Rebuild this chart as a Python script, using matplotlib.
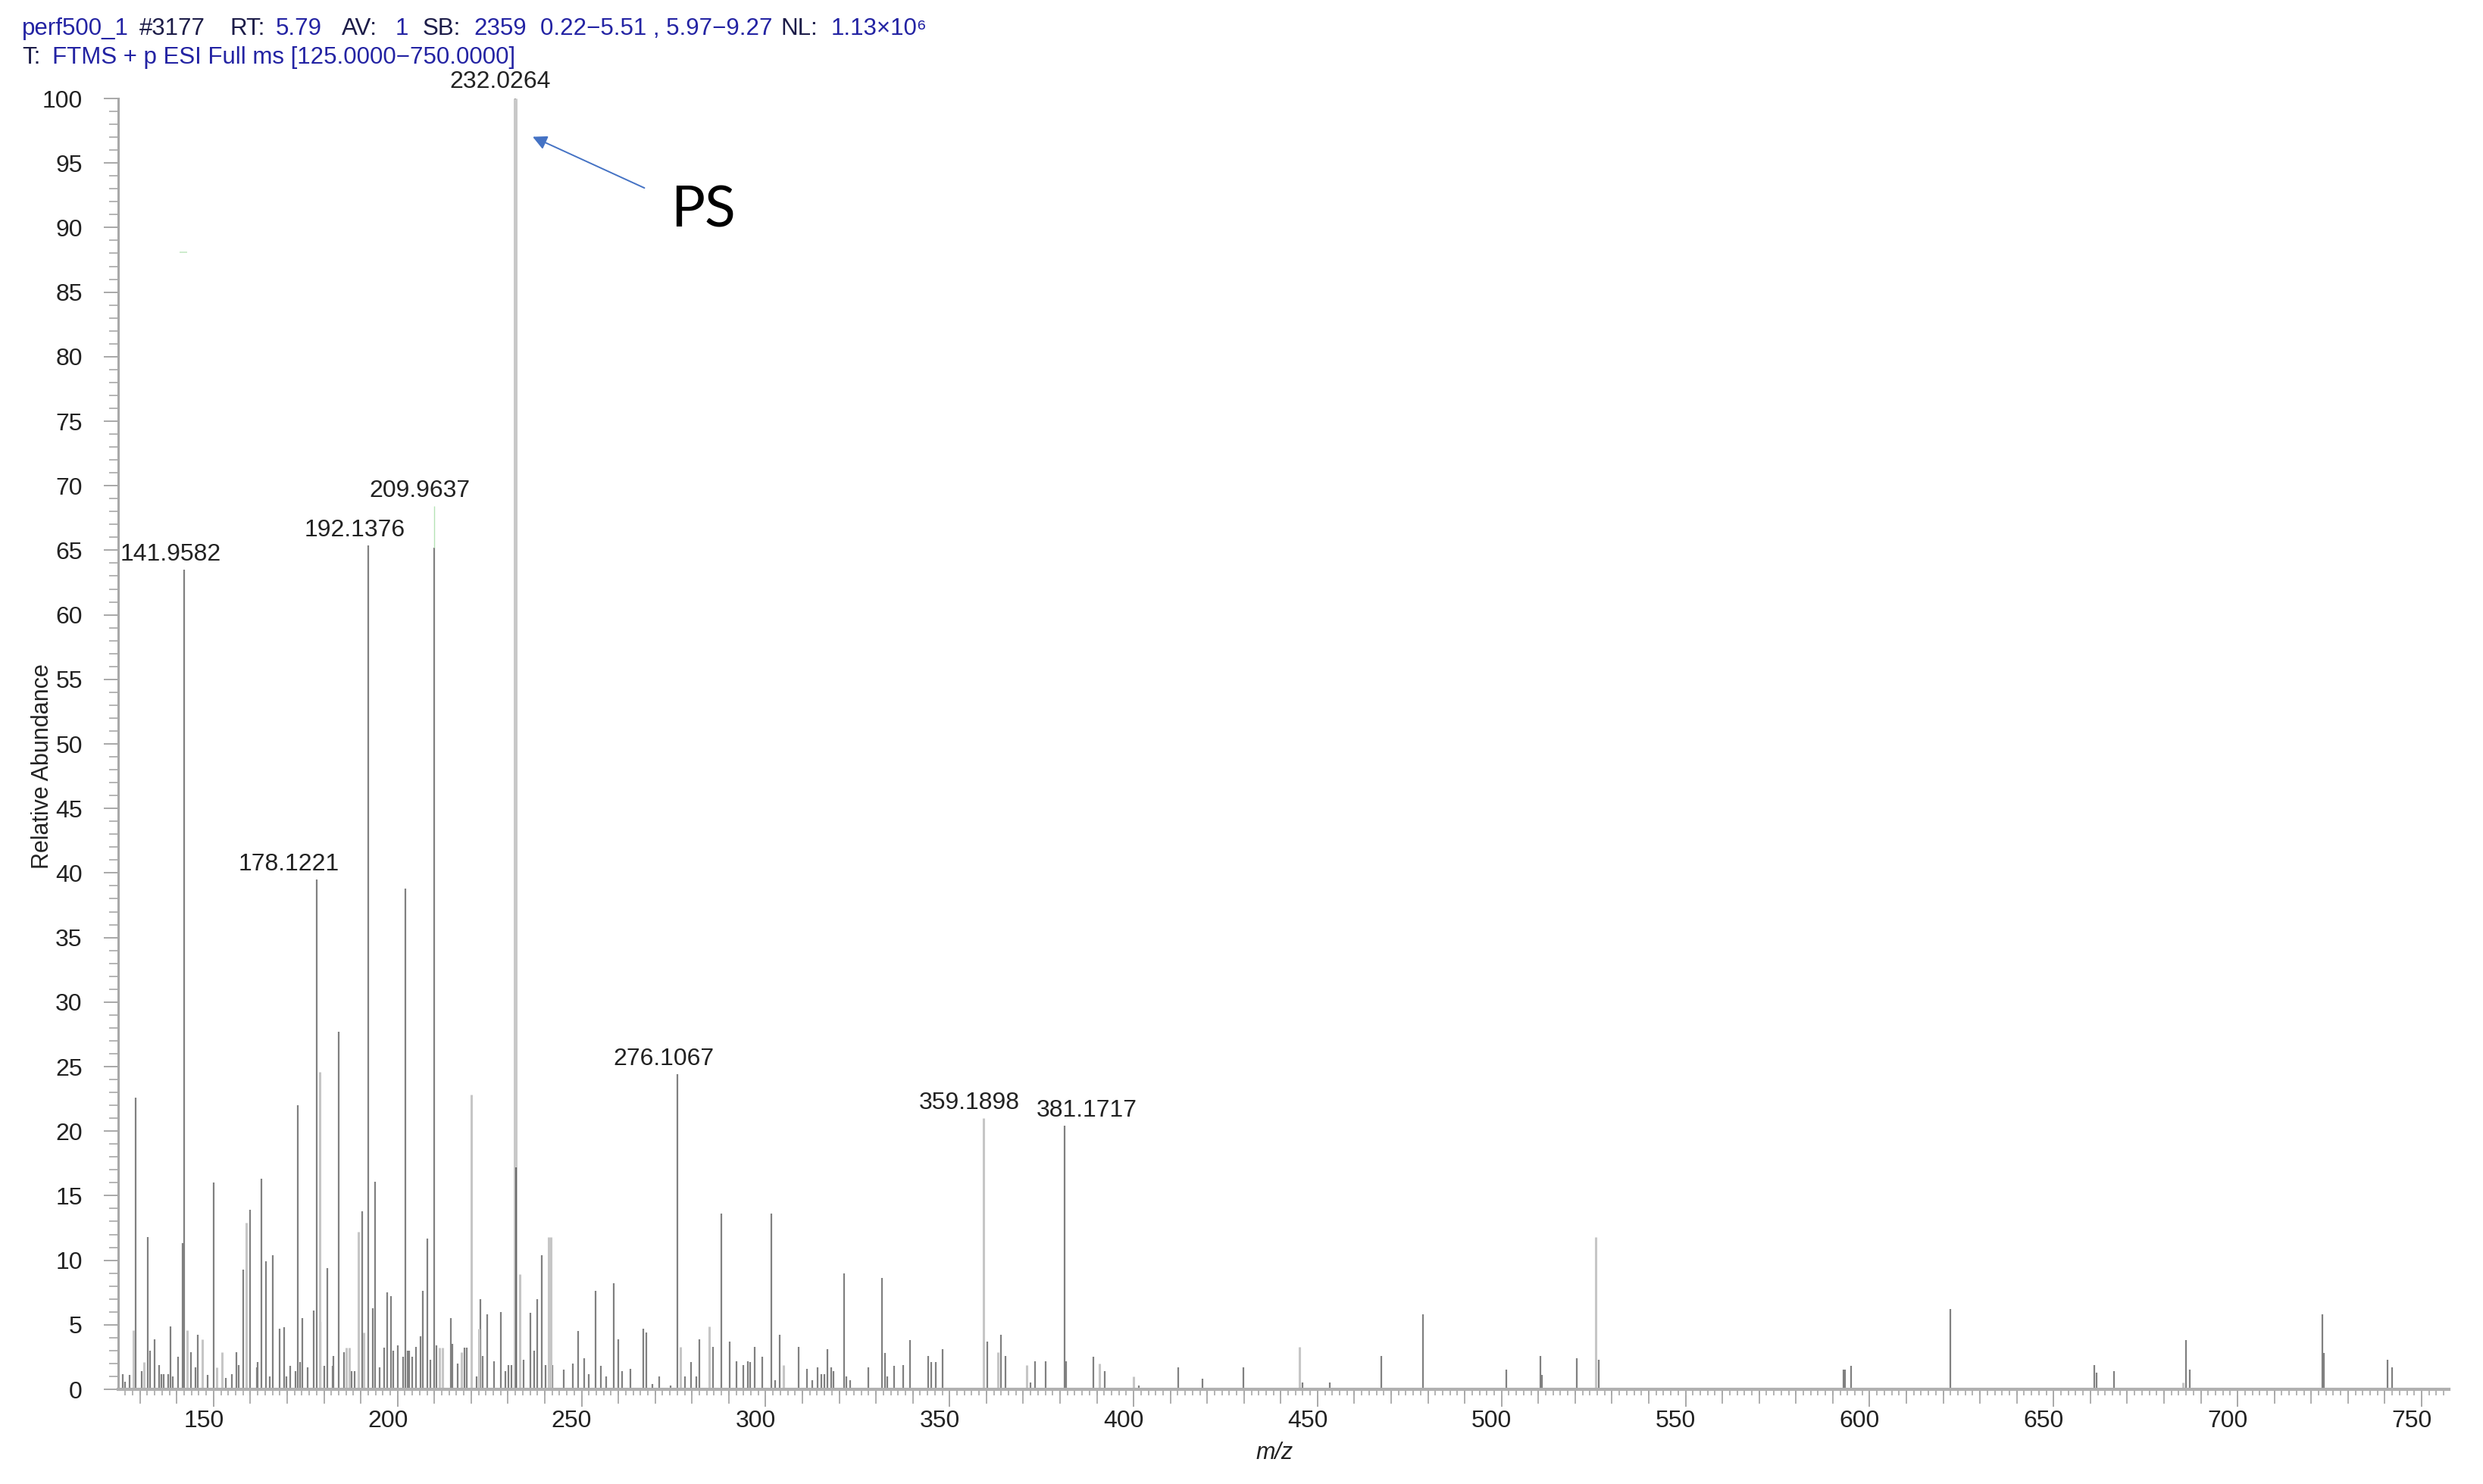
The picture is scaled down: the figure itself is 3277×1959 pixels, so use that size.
import numpy as np
import matplotlib.pyplot as plt
from matplotlib.ticker import MultipleLocator
from matplotlib.transforms import ScaledTranslation

plt.rcParams['font.family'] = ['Liberation Sans', 'DejaVu Sans']

# peak list: m/z and relative abundance (%)
mz = [125.3, 126.0, 127.2, 128.3, 128.9, 130.4, 131.2, 132.1, 132.7, 134.0,
      135.3, 135.8, 136.4, 137.6, 138.3, 139.0, 140.3, 141.5, 141.9582, 142.8,
      143.9, 145.0, 145.7, 146.9, 148.3, 150.1, 150.9, 152.4, 153.4, 155.0,
      156.2, 156.8, 158.1, 158.8, 159.9, 161.7, 162.0, 163.0, 164.2, 165.3,
      166.1, 167.9, 169.2, 169.8, 170.9, 172.3, 172.9, 173.6, 174.2, 175.5,
      177.2, 178.1221, 178.8, 179.1, 180.0, 181.0, 182.3, 182.6, 184.0, 185.5,
      186.0, 186.9, 187.6, 188.3, 189.3, 190.3, 190.9, 192.1376, 193.3, 193.9,
      195.2, 196.4, 197.1, 198.3, 198.9, 200.1, 201.5, 202.05, 202.7, 203.2,
      204.0, 205.1, 206.2, 206.9, 208.2, 209.0, 209.9637, 210.5, 211.4, 212.2,
      214.4, 214.9, 216.3, 217.3, 218.2, 218.9, 220.0, 221.4, 222.2, 222.6,
      223.2, 224.3, 226.2, 228.1, 229.3, 230.2, 231.0, 232.0264, 232.25, 233.3,
      234.3, 236.1, 237.2, 237.9, 239.1, 240.2, 241.0, 241.6, 242.1, 245.2,
      247.7, 249.1, 250.8, 251.9, 253.9, 255.2, 256.7, 258.8, 260.0, 261.1,
      263.2, 266.8, 267.6, 269.3, 271.1, 274.2, 276.1067, 276.9, 278.0, 279.8,
      281.1, 282.0, 284.7, 285.8, 287.9, 290.3, 292.2, 294.0, 295.2, 295.9,
      297.1, 299.0, 301.5, 302.6, 303.8, 304.8, 308.9, 311.2, 312.7, 314.1,
      315.1, 316.0, 316.9, 317.8, 318.5, 321.3, 322.0, 322.9, 328.0, 331.7,
      332.4, 333.1, 335.0, 337.4, 339.3, 344.2, 345.0, 346.2, 348.0, 359.1898,
      360.3, 363.1, 364.0, 365.2, 371.0, 371.9, 373.2, 376.2, 381.1717, 381.7,
      389.1, 390.8, 392.2, 400.0, 401.5, 412.1, 418.7, 429.9, 445.0, 445.8,
      453.3, 467.4, 478.6, 501.3, 510.5, 510.9, 520.4, 525.6, 526.5, 592.8,
      593.4, 595.0, 621.9, 661.0, 661.6, 666.5, 685.1, 685.9, 686.9, 723.0,
      723.4, 740.7, 742.0]
abundance = [1.2, 0.6, 1.1, 4.6, 22.6, 1.4, 2.1, 11.8, 3.0, 3.9,
             1.9, 1.2, 1.2, 1.2, 4.9, 1.0, 2.5, 11.3, 63.5, 4.6,
             2.9, 1.7, 4.2, 3.9, 1.1, 16.0, 1.7, 2.9, 0.9, 1.2,
             2.9, 1.9, 9.3, 12.9, 13.9, 1.7, 2.1, 16.3, 9.9, 1.0,
             10.4, 4.7, 4.8, 1.0, 1.8, 1.4, 22.0, 2.1, 5.5, 1.7,
             6.1, 39.5, 24.6, 5.2, 1.8, 9.4, 1.8, 2.6, 27.7, 2.9,
             3.2, 3.2, 1.4, 1.4, 12.2, 13.8, 4.4, 65.4, 6.3, 16.1,
             1.7, 3.2, 7.5, 7.2, 3.0, 3.4, 2.5, 38.8, 3.0, 3.0,
             2.5, 3.3, 4.1, 7.6, 11.7, 2.3, 65.2, 3.4, 3.2, 3.2,
             5.5, 3.5, 2.0, 2.9, 3.2, 3.2, 22.8, 1.0, 4.7, 7.0,
             2.6, 5.8, 2.2, 6.0, 1.4, 1.9, 1.9, 100.0, 17.2, 8.9,
             2.3, 5.9, 3.0, 7.0, 10.4, 1.9, 11.8, 11.8, 1.9, 1.5,
             2.0, 4.5, 2.4, 1.2, 7.6, 1.8, 1.0, 8.2, 3.9, 1.4,
             1.6, 4.7, 4.4, 0.4, 1.0, 0.3, 24.4, 3.3, 1.0, 2.1,
             1.0, 3.9, 4.9, 3.3, 13.6, 3.7, 2.2, 1.9, 2.2, 2.1,
             3.3, 2.5, 13.6, 0.7, 4.2, 1.9, 3.3, 1.6, 0.7, 1.7,
             1.2, 1.2, 3.1, 1.7, 1.4, 9.0, 1.0, 0.7, 1.7, 8.6,
             2.8, 1.0, 1.8, 1.9, 3.8, 2.6, 2.1, 2.1, 3.1, 21.0,
             3.7, 2.9, 4.2, 2.6, 1.9, 0.5, 2.2, 2.2, 20.4, 2.2,
             2.5, 2.0, 1.4, 1.0, 0.3, 1.7, 0.8, 1.7, 3.3, 0.5,
             0.5, 2.6, 5.8, 1.5, 2.6, 1.1, 2.4, 11.8, 2.3, 1.5,
             1.5, 1.8, 6.2, 1.9, 1.3, 1.4, 0.5, 3.8, 1.5, 5.8,
             2.8, 2.3, 1.7]

# peaks that the software draws in pale grey
pale_mz = [128.3, 131.2, 142.8, 146.9, 150.9, 152.4, 158.8, 178.8, 186.0, 186.9,
           189.3, 190.9, 211.4, 212.2, 217.3, 220.0, 222.2, 233.3, 241.0, 241.6,
           276.9, 284.7, 304.8, 359.1898, 363.1, 371.0, 390.8, 400.0, 445.0,
           525.6, 685.1]

label_mz = [141.9582, 178.1221, 192.1376, 209.9637, 232.0264, 276.1067, 359.1898, 381.1717]
label_text = ['141.9582', '178.1221', '192.1376', '209.9637', '232.0264', '276.1067', '359.1898', '381.1717']
# label placement (pixel offsets from the peak top)
label_dx = [-17, -37, -18, -19, -20, -18, -19, 30]
label_dy = [20, 20, 20, 75, 22, 20, 20, 20]

W, H = 3277, 1959
fig = plt.figure(figsize=(W / 100, H / 100), dpi=100)
ax = fig.add_axes([156 / W, 1 - 1834 / H, (3232 - 156) / W, (1834 - 130) / H])

mz_arr = np.array(mz)
ab_arr = np.array(abundance)
pale = np.isin(mz_arr, pale_mz)

ax.vlines(mz_arr[~pale], 0, ab_arr[~pale], colors='#808080', linewidth=1.6)
ax.vlines(mz_arr[pale], 0, ab_arr[pale], colors='#c6c6c6', linewidth=2.2)
big = mz_arr == 232.0264
ax.vlines(mz_arr[big], 0, ab_arr[big], colors='#c8c8c8', linewidth=3.6)
inner = mz_arr == 232.25
ax.vlines(mz_arr[inner], 0, ab_arr[inner], colors='#6a6a6a', linewidth=1.6)

for m, t, dx, dy in zip(label_mz, label_text, label_dx, label_dy):
    h = ab_arr[mz_arr == m][0]
    ax.annotate(t, xy=(m, h), xytext=(dx * 0.72, dy * 0.72), textcoords='offset points',
                ha='center', va='center', fontsize=23, color='#222222')

# small green leader / marks left by the software
ax.vlines(209.9637, 65.2, 68.4, colors='#b5e3b5', linewidth=1.0)
ax.hlines(88.1, 140.8, 142.8, colors='#c3e8c3', linewidth=1.2)

# PS arrow
ax.annotate('', xy=(236.2, 97.1), xytext=(267.6, 93.0),
            arrowprops=dict(arrowstyle='-|>', color='#4472C4', lw=1.4, mutation_scale=28))
ax.text(283.0, 91.3, 'PS', fontsize=54, family='Lato', ha='center', va='center', color='black')

ax.set_xlim(124.1, 757.4)
ax.set_ylim(0, 100)

for s in ['top', 'right']:
    ax.spines[s].set_visible(False)
ax.spines['left'].set_color('#a8a8a8')
ax.spines['left'].set_linewidth(2.2)
ax.spines['bottom'].set_color('#b0b0b0')
ax.spines['bottom'].set_linewidth(3.0)

ax.xaxis.set_major_locator(MultipleLocator(50))
ax.xaxis.set_minor_locator(MultipleLocator(2))
ax.yaxis.set_major_locator(MultipleLocator(5))
ax.yaxis.set_minor_locator(MultipleLocator(1))
ax.tick_params(axis='x', which='major', length=16.5, width=1.4, color='#a8a8a8',
               labelsize=23, labelcolor='#222222', pad=3)
ax.tick_params(axis='x', which='minor', length=6, width=1.2, color='#a8a8a8')
ax.tick_params(axis='y', which='major', length=14, width=1.4, color='#a8a8a8',
               labelsize=23, labelcolor='#222222', pad=20)
ax.tick_params(axis='y', which='minor', length=9, width=1.2, color='#a8a8a8')

# medium ticks every 10 on the m/z axis
trans = ax.get_xaxis_transform()
for x in np.arange(130, 760, 10):
    if x % 50:
        ax.plot([x, x], [0, -18 / 1704], color='#a8a8a8', lw=1.3, transform=trans, clip_on=False)

shift = ScaledTranslation(-13 / 100, 0, fig.dpi_scale_trans)
for lab in ax.get_xticklabels():
    lab.set_transform(lab.get_transform() + shift)

fig.text(56 / W, 1 - 1012 / H, 'Relative Abundance', rotation=90, fontsize=22,
         ha='center', va='center', color='#222222')
fig.text(1682 / W, 1 - 1918 / H, 'm/z', style='italic', fontsize=22,
         ha='center', va='center', color='#222222')

# header lines
blue = '#2323a3'
dark = '#1c1c48'
line1 = [('perf500_1', blue, 29), ('#3177', dark, 184), ('RT:', dark, 303), ('5.79', blue, 364),
         ('AV:', dark, 451), ('1', blue, 522), ('SB:', dark, 558), ('2359', blue, 625),
         ('0.22\u22125.51 , 5.97\u22129.27', blue, 713), ('NL:', dark, 1030),
         ('1.13\u00d710\u2076', blue, 1097)]
line2 = [('T:', dark, 29), ('FTMS + p ESI Full ms [125.0000\u2212750.0000]', blue, 69)]
for txt, col, x in line1:
    fig.text(x / W, 1 - 46 / H, txt, color=col, fontsize=22.5, va='baseline')
for txt, col, x in line2:
    fig.text(x / W, 1 - 84 / H, txt, color=col, fontsize=22.5, va='baseline')

fig.savefig('out.png', dpi=100)
